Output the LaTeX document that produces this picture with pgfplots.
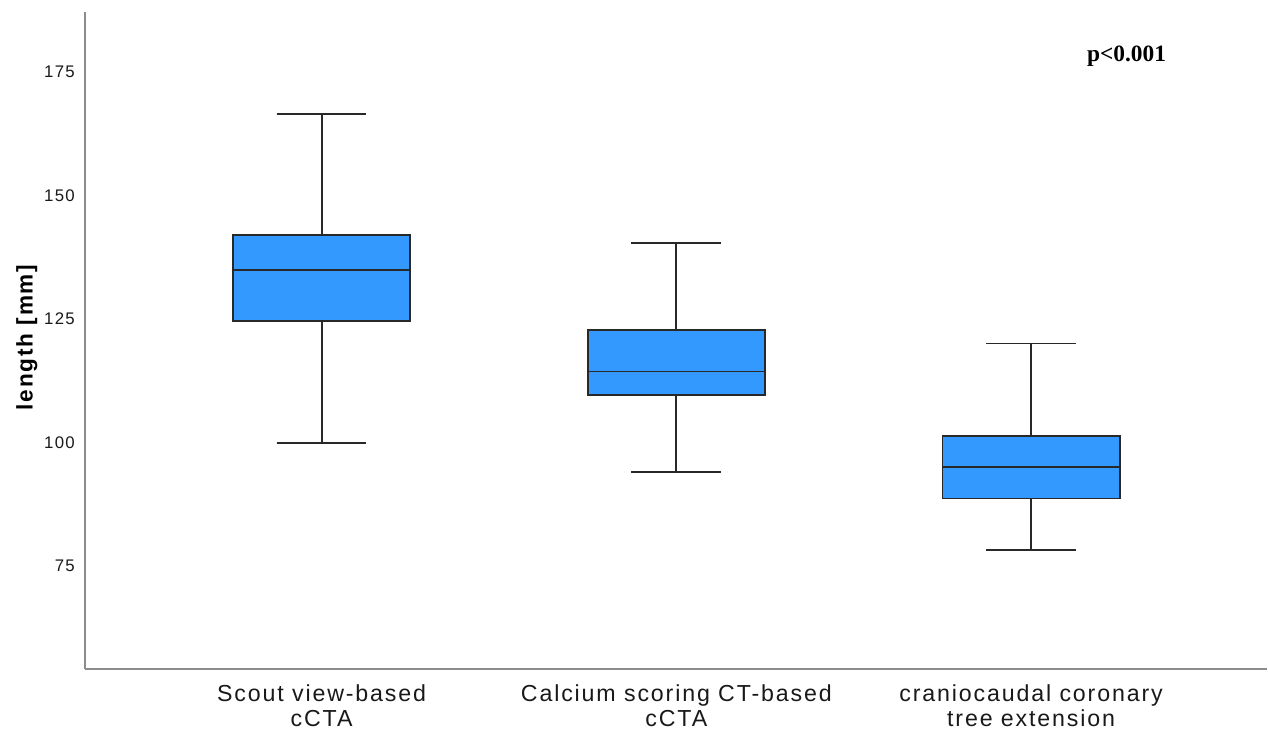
\documentclass[border=0pt]{standalone}
\usepackage{fontspec}
\usepackage{pgfplots}
\pgfplotsset{compat=1.18}
\usepgfplotslibrary{statistics}
\newfontfamily\spss[LetterSpace=8]{Liberation Sans}
\newfontfamily\ptimes{Liberation Serif}
\definecolor{boxblue}{RGB}{51,153,255}
\definecolor{axgray}{RGB}{140,140,140}
\definecolor{linegray}{RGB}{40,40,40}
\begin{document}
\begin{tikzpicture}
\begin{axis}[
  scale only axis,
  width=591.65pt, height=329pt,
  xmin=0.332, xmax=3.665,
  ymin=54, ymax=187.1,
  axis x line*=bottom, axis y line*=left,
  axis line style={axgray, line width=1pt},
  major tick length=0pt,
  xtick={1,2,3},
  xticklabels={{Scout view-based\\cCTA},{Calcium scoring CT-based\\cCTA},{craniocaudal coronary\\tree extension}},
  x tick label style={align=center, font=\spss\fontsize{11.6}{12.4}\selectfont, text=black!90, yshift=-4pt},
  ytick={75,100,125,150,175},
  /pgf/number format/assume math mode=true,
  y tick label style={font=\spss\fontsize{8.4}{10}\selectfont, text=black!90, xshift=-1.4pt},
  ylabel={length [mm]},
  ylabel style={at={(axis description cs:-0.0488,0.505)}, anchor=center, font=\spss\bfseries\fontsize{11.3}{12}\selectfont},
  boxplot/draw direction=y,
]
\addplot+[boxplot prepared={median=134.9, upper quartile=141.9, lower quartile=124.5, upper whisker=166.4, lower whisker=99.8, draw position=1, box extend=0.5, whisker extend=0.253}, fill=boxblue, draw=linegray, line width=0.9pt, solid, mark=none] coordinates {};
\addplot+[boxplot prepared={median=114.3, upper quartile=122.8, lower quartile=109.6, upper whisker=140.4, lower whisker=94.0, draw position=2, box extend=0.5, whisker extend=0.253}, fill=boxblue, draw=linegray, line width=0.9pt, solid, mark=none] coordinates {};
\addplot+[boxplot prepared={median=95.0, upper quartile=101.3, lower quartile=88.6, upper whisker=120.0, lower whisker=78.2, draw position=3, box extend=0.5, whisker extend=0.253}, fill=boxblue, draw=linegray, line width=0.9pt, solid, mark=none] coordinates {};
\node[font=\ptimes\bfseries\fontsize{11.7}{12}\selectfont, anchor=center] at (axis cs:3.269,178.2) {p<0.001};
\end{axis}
\path (-42.35pt,-30.5pt) rectangle (591.65pt,335pt);
\end{tikzpicture}
\end{document}
